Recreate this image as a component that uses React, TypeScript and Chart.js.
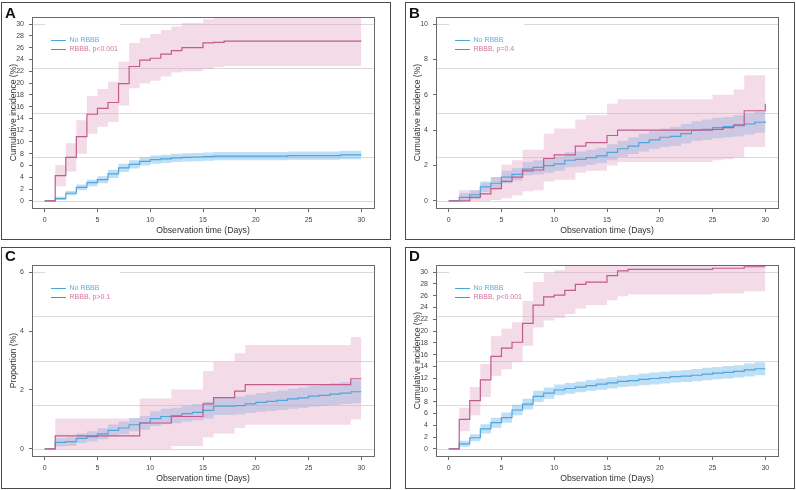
import React, { useEffect, useRef } from 'react';
import { Chart, registerables } from 'chart.js';

Chart.register(...registerables);

// ---- shared axis values ----
const DAYS = [0, 1, 2, 3, 4, 5, 6, 7, 8, 9, 10, 11, 12, 13, 14, 15, 16, 17, 18, 19, 20, 21, 22, 23, 24, 25, 26, 27, 28, 29, 30];
const X_TICKS = [0, 5, 10, 15, 20, 25, 30];
const Y_TICKS_30 = [0, 2, 4, 6, 8, 10, 12, 14, 16, 18, 20, 22, 24, 26, 28, 30];
const Y_TICKS_10 = [0, 2, 4, 6, 8, 10];
const Y_TICKS_6 = [0, 2, 4, 6];
const Y_GRID_30 = [0, 7.5, 15, 22.5, 30];
const Y_GRID_10 = [0, 2.5, 5, 7.5, 10];
const Y_GRID_6 = [0, 1.5, 3, 4.5, 6];

// ---- Panel A ----
const A_NO = [0, 0.4, 1.3, 2.3, 3.1, 3.6, 4.6, 5.6, 6.2, 6.7, 7.0, 7.15, 7.3, 7.4, 7.45, 7.5, 7.6, 7.6, 7.6, 7.6, 7.6, 7.6, 7.6, 7.7, 7.7, 7.7, 7.7, 7.7, 7.8, 7.8, 7.8];
const A_NO_LO = [0, 0.15, 0.9, 1.8, 2.5, 3.0, 3.9, 4.9, 5.5, 6.0, 6.3, 6.45, 6.6, 6.7, 6.75, 6.8, 6.9, 6.9, 6.9, 6.9, 6.9, 6.9, 6.9, 7.0, 7.0, 7.0, 7.0, 7.0, 7.05, 7.05, 7.05];
const A_NO_HI = [0, 0.7, 1.7, 2.8, 3.6, 4.2, 5.3, 6.3, 6.9, 7.4, 7.7, 7.85, 8.0, 8.1, 8.15, 8.2, 8.3, 8.3, 8.3, 8.3, 8.3, 8.3, 8.3, 8.4, 8.4, 8.4, 8.4, 8.4, 8.5, 8.5, 8.5];
const A_RB = [0, 4.3, 7.4, 10.9, 14.7, 15.7, 16.7, 19.9, 22.8, 23.9, 24.2, 24.9, 25.5, 26.0, 26.0, 26.8, 26.9, 27.1, 27.1, 27.1, 27.1, 27.1, 27.1, 27.1, 27.1, 27.1, 27.1, 27.1, 27.1, 27.1, 27.1];
const A_RB_LO = [0, 2.5, 5.0, 8.0, 11.4, 12.6, 13.4, 16.2, 19.1, 19.9, 20.4, 21.1, 21.8, 22.0, 22.0, 22.4, 22.7, 22.9, 22.9, 22.9, 22.9, 22.9, 22.9, 22.9, 22.9, 22.9, 22.9, 22.9, 22.9, 22.9, 22.9];
const A_RB_HI = [0, 6.1, 9.8, 13.7, 17.8, 19.0, 20.2, 23.6, 26.8, 27.7, 28.3, 29.0, 29.6, 30.2, 30.2, 30.8, 32, 32, 32, 32, 32, 32, 32, 32, 32, 32, 32, 32, 32, 32, 32];

// ---- Panel B ----
const B_NO = [0, 0.2, 0.35, 0.8, 1.0, 1.35, 1.5, 1.8, 1.9, 2.0, 2.1, 2.3, 2.35, 2.45, 2.55, 2.75, 2.95, 3.1, 3.3, 3.45, 3.6, 3.65, 3.8, 4.0, 4.05, 4.15, 4.2, 4.25, 4.35, 4.45, 4.5];
const B_NO_LO = [0, 0, 0.1, 0.5, 0.7, 1.0, 1.15, 1.45, 1.5, 1.6, 1.7, 1.9, 1.95, 2.05, 2.15, 2.3, 2.5, 2.65, 2.8, 2.95, 3.05, 3.1, 3.25, 3.4, 3.45, 3.55, 3.6, 3.65, 3.75, 3.85, 3.9];
const B_NO_HI = [0, 0.45, 0.6, 1.1, 1.35, 1.7, 1.85, 2.2, 2.3, 2.4, 2.5, 2.75, 2.8, 2.9, 3.0, 3.2, 3.4, 3.6, 3.8, 3.95, 4.1, 4.2, 4.35, 4.5, 4.6, 4.7, 4.75, 4.85, 4.95, 5.05, 5.1];
const B_RB = [0, 0, 0.2, 0.4, 0.7, 1.1, 1.35, 1.7, 1.75, 2.4, 2.6, 2.6, 3.1, 3.3, 3.3, 3.7, 4.0, 4.0, 4.0, 4.0, 4.0, 4.0, 4.0, 4.0, 4.0, 4.05, 4.15, 4.3, 5.1, 5.1, 5.5];
const B_RB_LO = [0, 0, 0, 0, 0.05, 0.15, 0.3, 0.55, 0.6, 1.1, 1.2, 1.2, 1.6, 1.7, 1.7, 2.0, 2.2, 2.2, 2.2, 2.2, 2.2, 2.2, 2.2, 2.2, 2.2, 2.3, 2.35, 2.45, 3.05, 3.05, 3.05];
const B_RB_HI = [0, 0.6, 0.6, 1.0, 1.35, 2.05, 2.3, 2.9, 2.9, 3.8, 4.1, 4.1, 4.6, 4.85, 4.85, 5.5, 5.75, 5.75, 5.75, 5.75, 5.75, 5.75, 5.75, 5.75, 5.75, 6.0, 6.0, 6.3, 7.1, 7.1, 7.1];

// ---- Panel C ----
const C_NO = [0, 0.22, 0.25, 0.36, 0.42, 0.51, 0.63, 0.71, 0.82, 0.88, 1.03, 1.1, 1.13, 1.2, 1.24, 1.31, 1.45, 1.45, 1.47, 1.53, 1.58, 1.61, 1.65, 1.7, 1.73, 1.79, 1.82, 1.86, 1.89, 1.94, 1.94];
const C_NO_LO = [0, 0.08, 0.1, 0.2, 0.25, 0.33, 0.43, 0.5, 0.6, 0.65, 0.78, 0.84, 0.87, 0.93, 0.97, 1.03, 1.15, 1.15, 1.17, 1.22, 1.26, 1.29, 1.32, 1.36, 1.39, 1.44, 1.46, 1.49, 1.52, 1.55, 1.55];
const C_NO_HI = [0, 0.36, 0.4, 0.52, 0.6, 0.7, 0.83, 0.93, 1.05, 1.12, 1.28, 1.36, 1.4, 1.47, 1.52, 1.6, 1.75, 1.75, 1.78, 1.84, 1.9, 1.94, 1.98, 2.04, 2.08, 2.14, 2.18, 2.23, 2.27, 2.33, 2.33];
const C_RB = [0, 0.44, 0.44, 0.44, 0.44, 0.44, 0.44, 0.44, 0.44, 0.88, 0.88, 0.88, 1.1, 1.1, 1.1, 1.53, 1.74, 1.74, 1.96, 2.18, 2.18, 2.18, 2.18, 2.18, 2.18, 2.18, 2.18, 2.18, 2.18, 2.38, 2.38];
const C_RB_LO = [0, 0, 0, 0, 0, 0, 0, 0, 0, 0, 0, 0, 0.1, 0.1, 0.1, 0.4, 0.52, 0.52, 0.71, 0.82, 0.82, 0.82, 0.82, 0.82, 0.82, 0.82, 0.82, 0.82, 0.82, 1.0, 1.0];
const C_RB_HI = [0, 1.03, 1.03, 1.03, 1.03, 1.03, 1.03, 1.03, 1.03, 1.71, 1.71, 1.71, 2.02, 2.02, 2.02, 2.64, 2.95, 2.95, 3.25, 3.53, 3.53, 3.53, 3.53, 3.53, 3.53, 3.53, 3.53, 3.53, 3.53, 3.8, 3.8];

// ---- Panel D ----
const D_NO = [0, 0.85, 1.9, 3.4, 4.45, 5.3, 6.6, 7.6, 8.9, 9.45, 10.0, 10.25, 10.5, 10.75, 11.0, 11.2, 11.45, 11.6, 11.8, 11.95, 12.1, 12.25, 12.35, 12.5, 12.7, 12.85, 13.0, 13.15, 13.4, 13.6, 13.6];
const D_NO_LO = [0, 0.35, 1.3, 2.6, 3.6, 4.45, 5.7, 6.7, 7.95, 8.5, 9.1, 9.35, 9.6, 9.85, 10.05, 10.25, 10.5, 10.65, 10.8, 10.95, 11.1, 11.25, 11.35, 11.5, 11.65, 11.8, 11.95, 12.1, 12.3, 12.5, 12.5];
const D_NO_HI = [0, 1.4, 2.5, 4.2, 5.3, 6.2, 7.5, 8.5, 9.85, 10.4, 10.95, 11.2, 11.45, 11.7, 11.95, 12.15, 12.4, 12.6, 12.8, 12.95, 13.1, 13.25, 13.4, 13.55, 13.75, 13.9, 14.05, 14.2, 14.5, 14.7, 14.7];
const D_RB = [0, 5.0, 8.2, 11.7, 15.7, 17.1, 18.1, 21.3, 24.4, 25.8, 26.1, 26.9, 27.9, 28.3, 28.3, 29.4, 30.2, 30.45, 30.45, 30.45, 30.45, 30.45, 30.45, 30.45, 30.45, 30.65, 30.65, 30.65, 30.9, 30.9, 30.9];
const D_RB_LO = [0, 3.0, 5.7, 8.8, 12.4, 13.5, 14.7, 17.5, 20.6, 21.8, 22.2, 22.9, 23.8, 24.4, 24.4, 25.2, 25.9, 26.2, 26.2, 26.2, 26.2, 26.2, 26.2, 26.2, 26.2, 26.35, 26.35, 26.35, 26.75, 26.75, 26.75];
const D_RB_HI = [0, 7.0, 10.5, 14.4, 19.1, 20.4, 21.5, 25.1, 28.3, 29.8, 30.3, 32, 32, 32, 32, 32, 32, 32, 32, 32, 32, 32, 32, 32, 32, 32, 32, 32, 32, 32, 32];

// ---- styling ----
const FONT = "'Liberation Sans', Arial, Helvetica, sans-serif";
const BLUE = '#4fa6da';
const PINK = '#c35b8d';
const BLUE_TEXT = '#5cb2e2';
const PINK_TEXT = '#d373a0';
const BLUE_BAND = 'rgba(110,185,235,0.45)';
const PINK_BAND = 'rgba(225,160,195,0.38)';
const AXIS = '#6a6a6a';
const FRAME = '#4a4a4a';
const GRID = '#dadada';
const TEXT = '#333333';

type PanelDef = {
  letter: string;
  yTitle: string;
  rbLabel: string;
  yMax: number;
  yTicks: number[];
  yGrid: number[];
  no: number[]; noLo: number[]; noHi: number[];
  rb: number[]; rbLo: number[]; rbHi: number[];
  left: number; top: number; height: number;
  padTop: number; xHeight: number;
  frameTop: number; frameH: number; letterY: number;
};

const ROW1 = { top: 0, height: 242, padTop: 17, xHeight: 34, frameTop: 2, frameH: 237, letterY: 18 };
const ROW2 = { top: 246, height: 244, padTop: 19, xHeight: 34, frameTop: 1, frameH: 241, letterY: 15 };

const PANELS: PanelDef[] = [
  { letter: 'A', yTitle: 'Cumulative incidence (%)', rbLabel: 'RBBB, p<0.001', yMax: 30, yTicks: Y_TICKS_30, yGrid: Y_GRID_30,
    no: A_NO, noLo: A_NO_LO, noHi: A_NO_HI, rb: A_RB, rbLo: A_RB_LO, rbHi: A_RB_HI, left: 0, ...ROW1 },
  { letter: 'B', yTitle: 'Cumulative incidence (%)', rbLabel: 'RBBB, p=0.4', yMax: 10, yTicks: Y_TICKS_10, yGrid: Y_GRID_10,
    no: B_NO, noLo: B_NO_LO, noHi: B_NO_HI, rb: B_RB, rbLo: B_RB_LO, rbHi: B_RB_HI, left: 404, ...ROW1 },
  { letter: 'C', yTitle: 'Proportion (%)', rbLabel: 'RBBB, p>0.1', yMax: 6, yTicks: Y_TICKS_6, yGrid: Y_GRID_6,
    no: C_NO, noLo: C_NO_LO, noHi: C_NO_HI, rb: C_RB, rbLo: C_RB_LO, rbHi: C_RB_HI, left: 0, ...ROW2 },
  { letter: 'D', yTitle: 'Cumulative incidence (%)', rbLabel: 'RBBB, p<0.001', yMax: 30, yTicks: Y_TICKS_30, yGrid: Y_GRID_30,
    no: D_NO, noLo: D_NO_LO, noHi: D_NO_HI, rb: D_RB, rbLo: D_RB_LO, rbHi: D_RB_HI, left: 404, ...ROW2 },
];

const CANVAS_W = 392;

const points = (vals: number[]) => DAYS.map((d, i) => ({ x: d, y: vals[i] }));

// frame, letter, reference lines, plot box and the in-plot key
const decorPlugin = (p: PanelDef) => ({
  id: 'panelDecor',
  beforeDraw(chart: any) {
    const ctx = chart.ctx;
    ctx.save();
    ctx.strokeStyle = FRAME;
    ctx.lineWidth = 1;
    ctx.strokeRect(1.5, p.frameTop + 0.5, 389, p.frameH);
    ctx.fillStyle = '#111';
    ctx.font = `bold 15px ${FONT}`;
    ctx.textBaseline = 'alphabetic';
    ctx.textAlign = 'left';
    ctx.fillText(p.letter, 5, p.letterY);
    ctx.restore();
  },
  beforeDatasetsDraw(chart: any) {
    const { ctx, chartArea: a } = chart;
    const y = chart.scales.y;
    ctx.save();
    ctx.strokeStyle = GRID;
    ctx.lineWidth = 1;
    for (const v of p.yGrid) {
      const py = Math.round(y.getPixelForValue(v)) + 0.5;
      ctx.beginPath();
      ctx.moveTo(a.left, py);
      ctx.lineTo(a.right, py);
      ctx.stroke();
    }
    ctx.fillStyle = '#ffffff';
    ctx.fillRect(a.left + 13, a.top + 3, 75, 33);
    ctx.restore();
  },
  afterDatasetsDraw(chart: any) {
    const { ctx, chartArea: a } = chart;
    ctx.save();
    ctx.strokeStyle = AXIS;
    ctx.lineWidth = 1;
    ctx.strokeRect(Math.round(a.left) + 0.5, Math.round(a.top) + 0.5, Math.round(a.right - a.left), Math.round(a.bottom - a.top));
    const items = [
      { text: 'No RBBB', line: BLUE, color: BLUE_TEXT, dy: 23 },
      { text: p.rbLabel, line: PINK, color: PINK_TEXT, dy: 32 },
    ];
    ctx.font = `7px ${FONT}`;
    ctx.textBaseline = 'middle';
    ctx.textAlign = 'left';
    for (const it of items) {
      const yy = Math.round(a.top + it.dy) + 0.5;
      ctx.strokeStyle = it.line;
      ctx.lineWidth = 1;
      ctx.beginPath();
      ctx.moveTo(a.left + 19, yy);
      ctx.lineTo(a.left + 34, yy);
      ctx.stroke();
      ctx.fillStyle = it.color;
      ctx.fillText(it.text, a.left + 37.5, yy);
    }
    ctx.restore();
  },
});

function Panel({ p }: { p: PanelDef }) {
  const ref = useRef<HTMLCanvasElement>(null);

  useEffect(() => {
    if (!ref.current) return;
    const pad = p.yMax * 0.04;
    // each value holds from its day until the next day
    const lineBase = { pointRadius: 0, stepped: 'before' as const, tension: 0 };
    const chart = new Chart(ref.current, {
      type: 'line',
      data: {
        datasets: [
          { ...lineBase, label: p.rbLabel, data: points(p.rb), borderColor: PINK, borderWidth: 1.2, fill: false },
          { ...lineBase, label: 'No RBBB', data: points(p.no), borderColor: BLUE, borderWidth: 1.2, fill: false },
          { ...lineBase, label: 'rb-lo', data: points(p.rbLo), borderColor: 'transparent', borderWidth: 0, fill: false },
          { ...lineBase, label: 'rb-hi', data: points(p.rbHi), borderColor: 'transparent', borderWidth: 0, fill: '-1', backgroundColor: PINK_BAND },
          { ...lineBase, label: 'no-lo', data: points(p.noLo), borderColor: 'transparent', borderWidth: 0, fill: false },
          { ...lineBase, label: 'no-hi', data: points(p.noHi), borderColor: 'transparent', borderWidth: 0, fill: '-1', backgroundColor: BLUE_BAND },
        ],
      },
      options: {
        responsive: false,
        animation: false,
        events: [],
        layout: { padding: { left: 0, top: p.padTop, right: CANVAS_W - 374, bottom: 0 } },
        plugins: { legend: { display: false }, tooltip: { enabled: false } },
        scales: {
          x: {
            type: 'linear',
            min: -1.2,
            max: 31.2,
            afterBuildTicks: (s: any) => { s.ticks = X_TICKS.map((v) => ({ value: v })); },
            afterFit: (s: any) => { s.height = p.xHeight; },
            grid: { drawOnChartArea: false, drawTicks: true, tickLength: 4, color: AXIS },
            border: { display: true, color: AXIS, width: 1 },
            ticks: { autoSkip: false, maxRotation: 0, padding: 4, color: '#444', font: { family: FONT, size: 7 } },
            title: { display: true, text: 'Observation time (Days)', color: TEXT, font: { family: FONT, size: 8.7 }, padding: { top: 0, bottom: 6.5 } },
          },
          y: {
            type: 'linear',
            min: -pad,
            max: p.yMax + pad,
            afterBuildTicks: (s: any) => { s.ticks = p.yTicks.map((v) => ({ value: v })); },
            afterFit: (s: any) => { s.width = 32; },
            grid: { drawOnChartArea: false, drawTicks: true, tickLength: 3, color: AXIS },
            border: { display: true, color: AXIS, width: 1 },
            ticks: { autoSkip: false, padding: 5, color: '#444', font: { family: FONT, size: 7 } },
            title: { display: true, text: p.yTitle, color: TEXT, font: { family: FONT, size: 8.6 }, padding: { top: 8, bottom: 0 } },
          },
        },
      },
      plugins: [decorPlugin(p)],
    } as any);
    return () => chart.destroy();
  }, [p]);

  return (
    <canvas
      ref={ref}
      width={CANVAS_W}
      height={p.height}
      style={{ position: 'absolute', left: p.left, top: p.top, width: CANVAS_W, height: p.height }}
    />
  );
}

export default function App() {
  return (
    <div style={{ position: 'absolute', left: 0, top: 0, width: 796, height: 490, background: '#ffffff', overflow: 'hidden' }}>
      {PANELS.map((p) => (
        <Panel key={p.letter} p={p} />
      ))}
    </div>
  );
}
